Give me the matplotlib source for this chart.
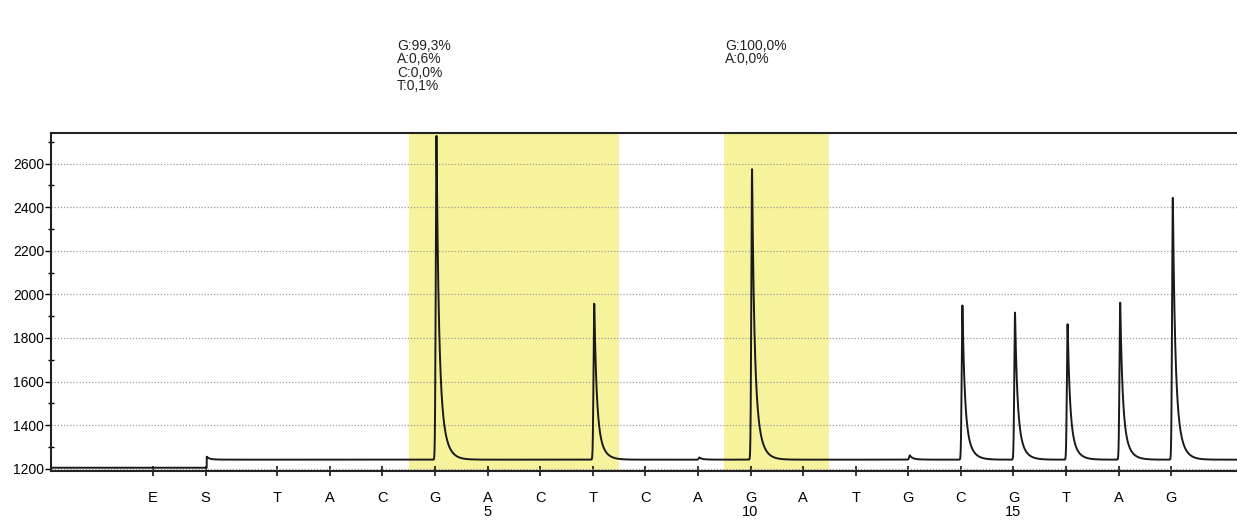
import matplotlib.pyplot as plt
import numpy as np
from matplotlib.ticker import MultipleLocator
import matplotlib.transforms as mtransforms

plt.rcParams['font.family'] = ['Liberation Sans', 'DejaVu Sans']

# dispensation order (E = enzyme, S = substrate, then nucleotides 1..18)
disp_labels = ["E", "S", "T", "A", "C", "G", "A", "C", "T", "C", "A",
               "G", "A", "T", "G", "C", "G", "T", "A", "G"]
disp_pos = [-1.36, -0.36, 1, 2, 3, 4, 5, 6, 7, 8, 9,
            10, 11, 12, 13, 14, 15, 16, 17, 18]
disp_numbers = {5: "5", 10: "10", 15: "15"}

# peak heights (light units)
peak_pos = [4, 7, 9, 10, 13, 14, 15, 16, 17, 18]
peak_height = [2728, 1960, 1252, 2575, 1262, 1950, 1918, 1865, 1965, 2450]

baseline_before_s = 1205
baseline_after_s = 1242
s_overshoot = 1256

# analysed variable positions
highlight_ranges = [(3.5, 7.5), (9.5, 11.5)]
annot_x = [3.28, 9.52]
annot_text = ["G:99,3%\nA:0,6%\nC:0,0%\nT:0,1%", "G:100,0%\nA:0,0%"]

x_min, x_max = -3.30, 19.25
y_min, y_max = 1190, 2740


def peak_shape(x, centre, height, base):
    d = x - centre
    rise = np.exp(-(d / 0.02) ** 2)
    fall = 0.65 * np.exp(-d / 0.04) + 0.35 * np.exp(-d / 0.11)
    shape = np.where(d < 0, rise, fall)
    return (height - base) * shape


x = np.linspace(x_min, x_max, 12000)
s_x = disp_pos[1] + 0.02
signal = np.where(x < s_x, baseline_before_s, baseline_after_s).astype(float)
signal += peak_shape(x, s_x, s_overshoot, baseline_after_s) * (x >= s_x)
for p, h in zip(peak_pos, peak_height):
    signal += peak_shape(x, p + 0.03, h, baseline_after_s)

fig = plt.figure(figsize=(12.37, 5.22), dpi=100)
ax = fig.add_axes([51 / 1237, 1 - 471 / 522, 1 - 51 / 1237, 338 / 522])

for a, b in highlight_ranges:
    ax.axvspan(a, b, color="#f7f39c", zorder=0, lw=0)

ax.plot(x, signal, color="#1a1a1a", lw=1.4, zorder=3)

ax.set_xlim(x_min, x_max)
ax.set_ylim(y_min, y_max)

ax.yaxis.set_major_locator(MultipleLocator(200))
ax.yaxis.set_minor_locator(MultipleLocator(100))
ax.grid(axis="y", which="major", color="#9a9a9a", linestyle=(0, (1, 1.5)), lw=0.9, zorder=1)

xt_labels = []
for i, lab in enumerate(disp_labels):
    num = i - 1
    if num in disp_numbers:
        xt_labels.append(lab + "\n" + disp_numbers[num])
    else:
        xt_labels.append(lab)
ax.set_xticks(disp_pos)
ax.set_xticklabels(xt_labels, fontsize=10.5, linespacing=1.0, va="top")
ax.tick_params(axis="x", direction="inout", length=7, width=1.1, pad=11)
ax.tick_params(axis="y", which="major", direction="out", length=4, width=1.0, labelsize=10, pad=1)
ax.tick_params(axis="y", which="minor", direction="inout", length=5, width=1.0)

ax.spines["right"].set_visible(False)
for side in ["left", "top", "bottom"]:
    ax.spines[side].set_linewidth(1.5)
    ax.spines[side].set_color("#222222")

trans = mtransforms.blended_transform_factory(ax.transData, ax.transAxes)
for xa, txt in zip(annot_x, annot_text):
    ax.text(xa, 1.278, txt, transform=trans, fontsize=10, linespacing=0.95,
            ha="left", va="top", color="#222222")

fig.savefig("out.png", dpi=100)
